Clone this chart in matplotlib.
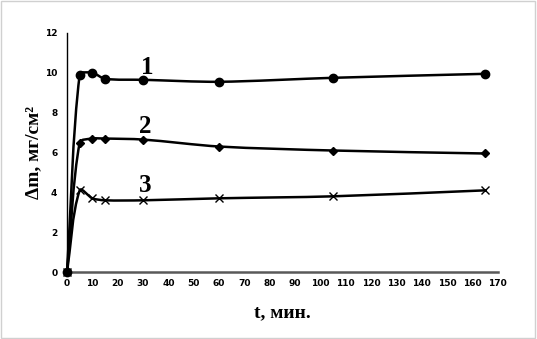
import numpy as np
import matplotlib
matplotlib.use("Agg")
import matplotlib.pyplot as plt
from matplotlib.path import Path
from matplotlib.patches import PathPatch, Rectangle

# data
t = [0, 5, 10, 15, 30, 60, 105, 165]
dm1 = [0, 9.9, 10.0, 9.7, 9.65, 9.55, 9.75, 9.95]
dm2 = [0, 6.5, 6.7, 6.7, 6.65, 6.3, 6.1, 5.95]
dm3 = [0, 4.1, 3.7, 3.6, 3.6, 3.7, 3.8, 4.1]
curve_labels = ["1", "2", "3"]
label_pos = [(31.6, 9.95), (30.8, 7.0), (30.8, 4.0)]
x_ticks = list(range(0, 171, 10))
y_ticks = list(range(0, 13, 2))


def smooth_path(ax, x, y):
    """smoothed line like Excel: tangents built in pixel space,
    handle length limited by the segment length"""
    p = ax.transData.transform(np.column_stack([x, y]).astype(float))
    n = len(p)

    def tangent(i):
        a = p[i - 1] if i > 0 else p[i]
        b = p[i + 1] if i < n - 1 else p[i]
        d = b - a
        return d / np.hypot(*d)

    verts = [p[0]]
    codes = [Path.MOVETO]
    for i in range(n - 1):
        seg = np.hypot(*(p[i + 1] - p[i]))
        c1 = p[i] + tangent(i) * seg / 3.5
        c2 = p[i + 1] - tangent(i + 1) * seg / 3.5
        verts += [c1, c2, p[i + 1]]
        codes += [Path.CURVE4] * 3
    verts = ax.transData.inverted().transform(np.array(verts))
    return Path(verts, codes)


fig = plt.figure(figsize=(5.37, 3.39), dpi=100)
ax = fig.add_axes([0.1248, 0.1976, 0.8022, 0.7051])
ax.set_xlim(0, 170)
ax.set_ylim(0, 12)

series = [(dm1, "o", 6.0), (dm2, "D", 4.5), (dm3, "x", 5.5)]
for y, m, ms in series:
    ax.add_patch(PathPatch(smooth_path(ax, t, y), facecolor="none",
                           edgecolor="black", lw=1.8, zorder=3,
                           clip_on=False))
    ax.plot(t, y, linestyle="none", marker=m, markersize=ms, color="black",
            markeredgewidth=1.0, zorder=4, clip_on=False)

for lab, (lx, ly) in zip(curve_labels, label_pos):
    ax.text(lx, ly, lab, family="Liberation Serif", fontweight="bold",
            fontsize=18, ha="center", va="baseline")

ax.set_xticks(x_ticks)
ax.set_yticks(y_ticks)
ax.tick_params(length=0, labelsize=6.5)
ax.tick_params(axis="y", pad=7)
ax.tick_params(axis="x", pad=5)
for lbl in ax.get_xticklabels() + ax.get_yticklabels():
    lbl.set_fontweight("bold")
ax.spines["top"].set_visible(False)
ax.spines["right"].set_visible(False)
ax.spines["left"].set_color("black")
ax.spines["left"].set_linewidth(1.0)
ax.spines["bottom"].set_color("#595959")
ax.spines["bottom"].set_linewidth(1.8)

ax.set_xlabel("t, мин.", family="Liberation Serif", fontweight="bold",
              fontsize=14, labelpad=12)
ax.set_ylabel("Δm, мг/см²", family="Liberation Serif",
              fontweight="bold", fontsize=14, labelpad=2)

fig.patches.append(Rectangle((0.002, 0.003), 0.995, 0.994,
                             transform=fig.transFigure, fill=False,
                             edgecolor="#d0d0d0", lw=1.0))

fig.savefig("out.png", dpi=100)
